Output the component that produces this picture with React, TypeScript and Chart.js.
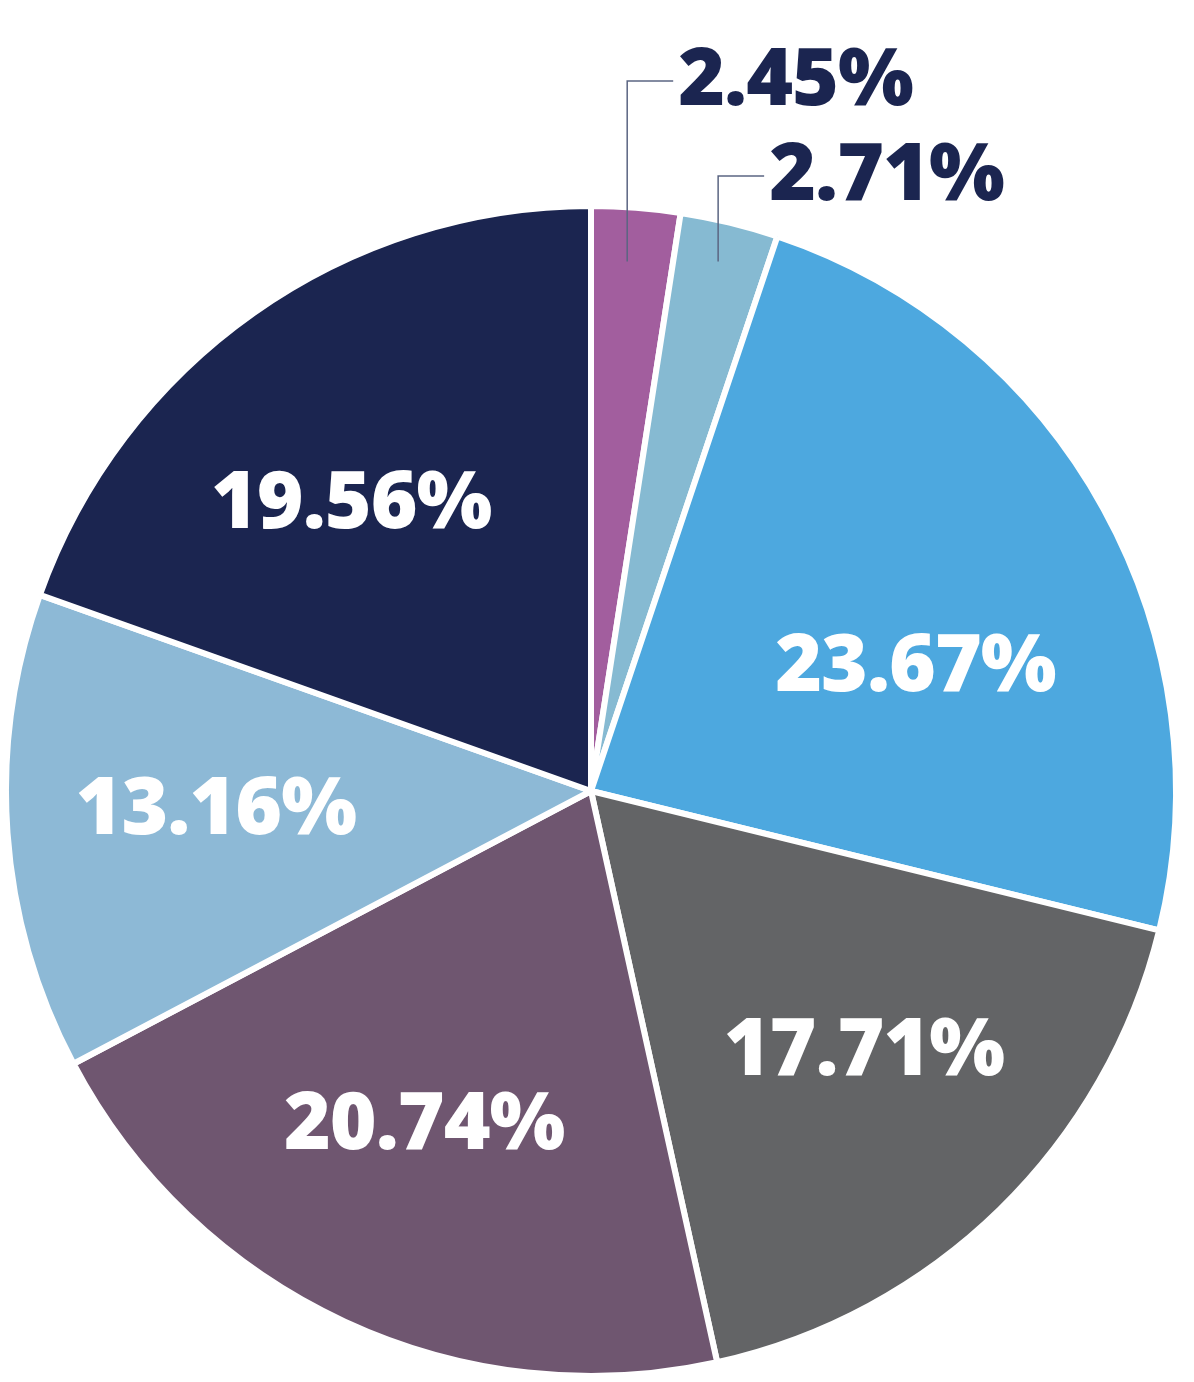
import React, { useEffect, useRef } from "react";
import { Chart, registerables } from "chart.js";

Chart.register(...registerables);

const categories = ["A", "B", "C", "D", "E", "F", "G"];
const shares = [2.45, 2.71, 23.67, 17.71, 20.74, 13.16, 19.56];
const sliceColors = ["#A25E9E", "#86BAD2", "#4DA8DF", "#636466", "#6F5670", "#8DB9D6", "#1B2550"];
const labelTexts = ["2.45%", "2.71%", "23.67%", "17.71%", "20.74%", "13.16%", "19.56%"];

// label placement: inside labels use radius fraction + angle tweak (deg); outside use leader lines
const labelPlacement = [
  { kind: "out", baseline: 105, angleTweak: -0.5 },
  { kind: "out", baseline: 200, angleTweak: -0.2 },
  { kind: "in", frac: 0.6, angleTweak: 7.1 },
  { kind: "in", frac: 0.642, angleTweak: -2.6 },
  { kind: "in", frac: 0.634, angleTweak: 2.0 },
  { kind: "in", frac: 0.645, angleTweak: 2.0 },
  { kind: "in", frac: 0.649, angleTweak: -4.2 },
];

const FONT = "800 80px 'Open Sans'";

const labelPlugin = {
  id: "sliceLabels",
  afterDatasetsDraw(chart: any) {
    const ctx = chart.ctx as CanvasRenderingContext2D;
    const meta = chart.getDatasetMeta(0);
    ctx.save();
    ctx.font = FONT;
    (ctx as any).letterSpacing = "-1px";
    const capH = ctx.measureText("0").actualBoundingBoxAscent;
    meta.data.forEach((arc: any, i: number) => {
      const p = arc.getProps(["startAngle", "endAngle", "x", "y", "outerRadius"], true);
      const place = labelPlacement[i];
      const mid = (p.startAngle + p.endAngle) / 2 + (place.angleTweak * Math.PI) / 180;
      const r = p.outerRadius - 3;
      if (place.kind === "in") {
        const d = r * (place.frac as number);
        const x = p.x + d * Math.cos(mid);
        const y = p.y + d * Math.sin(mid);
        ctx.fillStyle = "#FFFFFF";
        ctx.textAlign = "center";
        ctx.textBaseline = "alphabetic";
        ctx.fillText(labelTexts[i], x, y + capH / 2);
      } else {
        // leader: vertical from inside slice up to label level, then horizontal
        const anchorY = p.y - r * 0.91;
        const anchorX = p.x + (p.y - anchorY) * Math.tan(mid + Math.PI / 2);
        const baseline = place.baseline as number;
        const lineY = baseline - 24;
        ctx.strokeStyle = "#5B6582";
        ctx.lineWidth = 1.5;
        ctx.beginPath();
        ctx.moveTo(anchorX, anchorY);
        ctx.lineTo(anchorX, lineY);
        ctx.lineTo(anchorX + 46, lineY);
        ctx.stroke();
        ctx.fillStyle = "#1B2550";
        ctx.textAlign = "left";
        ctx.textBaseline = "alphabetic";
        ctx.fillText(labelTexts[i], anchorX + 51, baseline);
      }
    });
    ctx.restore();
  },
};

export default function App() {
  const ref = useRef<HTMLCanvasElement | null>(null);
  useEffect(() => {
    if (!ref.current) return;
    const chart = new Chart(ref.current, {
      type: "pie",
      data: {
        labels: categories,
        datasets: [
          {
            data: shares,
            backgroundColor: sliceColors,
            borderColor: "#FFFFFF",
            borderWidth: 6,
            hoverBorderWidth: 6,
          },
        ],
      },
      options: {
        responsive: false,
        animation: false,
        events: [],
        layout: { padding: { left: 3, right: 15, top: 203, bottom: 3 } },
        plugins: { legend: { display: false }, tooltip: { enabled: false } },
      },
      plugins: [labelPlugin],
    });
    return () => chart.destroy();
  }, []);
  return (
    <div style={{ position: "absolute", left: 0, top: 0, width: 1194, height: 1382, background: "#fff" }}>
      <canvas ref={ref} width={1194} height={1382} />
    </div>
  );
}
